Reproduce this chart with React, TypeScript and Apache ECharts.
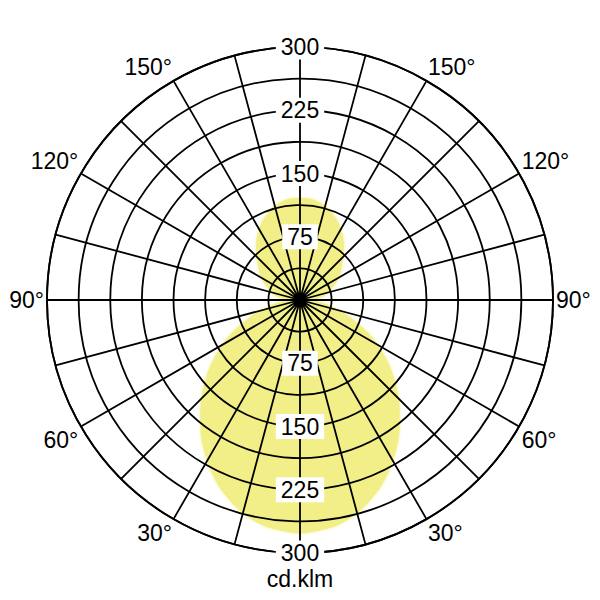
import * as echarts from 'echarts';
import { useEffect, useRef } from 'react';

// luminous intensity (cd/klm), 0° = straight down, 180° = straight up
const angles = [0, 10, 20, 30, 40, 50, 60, 70, 80, 90, 100, 110, 120, 130, 140, 150, 160, 170, 180];
const intensity = [277, 270, 250, 220, 184, 146, 106, 66, 34, 18, 30, 40, 53, 65, 81, 97, 110, 119, 121];

const radiusTicks = [0, 75, 150, 225, 300];
const angleLabels = [30, 60, 90, 120, 150];
const unitLabel = 'cd.klm';

const FONT = 'Liberation Sans, Arial, sans-serif';
const LINE = { color: '#000', width: 1.8 };

const App = () => {
    const chartDiv = useRef<HTMLDivElement>(null);

    useEffect(() => {
        const chart = echarts.init(chartDiv.current, null, { renderer: 'svg' });

        // mirror the C0-C180 plane onto the other half of the diagram
        const curve: number[][] = [];
        angles.forEach((a, i) => curve.push([intensity[i], a]));
        for (let i = angles.length - 2; i >= 0; i--) {
            curve.push([intensity[i], 360 - angles[i]]);
        }

        const radiusMax = radiusTicks[radiusTicks.length - 1];
        const radiusStep = radiusTicks[1] - radiusTicks[0];

        const labelStyle = {
            show: true,
            color: '#000',
            fontSize: 23,
            fontFamily: FONT,
            backgroundColor: '#fff',
            padding: [1, 5],
            margin: 0,
            align: 'center',
            verticalAlign: 'middle',
            showMinLabel: false
        };

        chart.setOption({
            animation: false,
            textStyle: { fontFamily: FONT },
            title: {
                text: unitLabel,
                left: 'center',
                top: 567,
                padding: 0,
                textStyle: { fontSize: 23, fontWeight: 'normal', color: '#000', fontFamily: FONT }
            },
            polar: [
                { center: ['50%', '50%'], radius: 253 },
                { center: ['50%', '50%'], radius: 253 }
            ],
            angleAxis: [
                {
                    polarIndex: 0,
                    type: 'value',
                    min: 0,
                    max: 360,
                    interval: 15,
                    startAngle: 270,
                    clockwise: true,
                    z: 3,
                    axisLine: { show: true, lineStyle: LINE },
                    axisTick: { show: false },
                    splitLine: { show: true, lineStyle: LINE },
                    axisLabel: {
                        show: true,
                        margin: 3,
                        fontSize: 23,
                        color: '#000',
                        fontFamily: FONT,
                        formatter: (v: number) => {
                            const d = v <= 180 ? v : 360 - v;
                            return angleLabels.includes(d) ? d + '°' : '';
                        }
                    }
                },
                {
                    polarIndex: 1,
                    type: 'value',
                    min: 0,
                    max: 360,
                    startAngle: 90,
                    show: false
                }
            ],
            radiusAxis: [
                {
                    polarIndex: 0,
                    type: 'value',
                    min: 0,
                    max: radiusMax,
                    interval: radiusStep,
                    z: 4,
                    axisLine: { show: false },
                    axisTick: { show: false },
                    minorTick: { show: false, splitNumber: 2 },
                    splitLine: { show: true, lineStyle: LINE },
                    minorSplitLine: { show: true, lineStyle: LINE },
                    axisLabel: labelStyle
                },
                {
                    polarIndex: 1,
                    type: 'value',
                    min: 0,
                    max: radiusMax,
                    interval: radiusStep,
                    z: 4,
                    axisLine: { show: false },
                    axisTick: { show: false },
                    splitLine: { show: false },
                    axisLabel: labelStyle
                }
            ],
            series: [
                {
                    type: 'line',
                    coordinateSystem: 'polar',
                    polarIndex: 0,
                    data: curve,
                    smooth: 0.4,
                    symbol: 'none',
                    z: 1,
                    lineStyle: { width: 0 },
                    areaStyle: {
                        color: '#f2ef88',
                        opacity: 1,
                        shadowBlur: 3,
                        shadowColor: '#f2ef88'
                    }
                }
            ]
        });

        return () => {
            chart.dispose();
        };
    }, []);

    return (
        <div
            ref={chartDiv}
            style={{ position: 'fixed', left: 0, top: 0, width: '600px', height: '600px', background: '#fff' }}
        />
    );
};

export default App;
